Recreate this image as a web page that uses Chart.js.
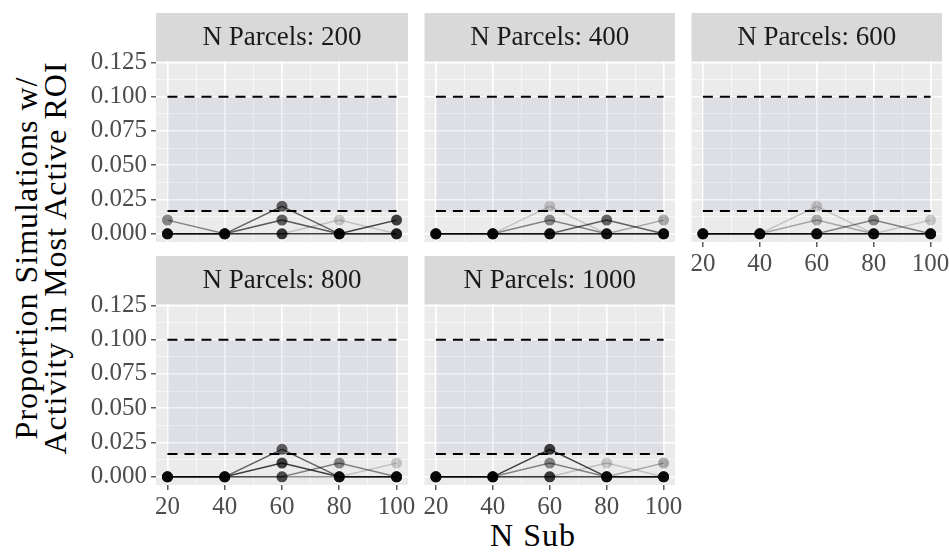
<!DOCTYPE html>
<html>
<head>
<meta charset="utf-8">
<script src="https://cdn.jsdelivr.net/npm/chart.js@4/dist/chart.umd.min.js"></script>
<style>
  body { margin: 0; background: #fff; }
  #wrap { position: relative; width: 949px; height: 554px; overflow: hidden; font-family: "Liberation Serif", serif; }
  #wrap canvas { position: absolute; }
  .ytitle {
    position: absolute; left: 41px; top: 258px;
    transform: translate(-50%, -50%) rotate(-90deg);
    white-space: nowrap; text-align: center;
    font-size: 32px; letter-spacing: 1px; line-height: 29px; color: #000;
  }
  .xtitle {
    position: absolute; left: 533px; top: 535px;
    transform: translate(-50%, -50%);
    white-space: nowrap; font-size: 32px; letter-spacing: 1px; line-height: 32px; color: #000;
  }
</style>
</head>
<body>
<div id="wrap">
  <div class="ytitle">Proportion Simulations w/<br>Activity in Most Active ROI</div>
  <div class="xtitle">N Sub</div>
</div>
<script>
const nSub = [20, 40, 60, 80, 100];
const parcels = [200, 400, 600, 800, 1000];
const xTicks = [20, 40, 60, 80, 100];
const yTicks = [0, 0.025, 0.05, 0.075, 0.1, 0.125];
const refLines = [0.1, 1 / 60];

// proportion per N sub, one row per series (darkest first)
const prop200 = [
  [0, 0, 0, 0, 0.01],
  [0, 0, 0.02, 0, 0],
  [0.01, 0, 0.01, 0, 0],
  [0, 0, 0.01, 0, 0],
  [0, 0, 0, 0.01, 0],
];
const prop400 = [
  [0, 0, 0, 0, 0],
  [0, 0, 0, 0.01, 0],
  [0, 0, 0.01, 0, 0],
  [0, 0, 0, 0, 0.01],
  [0, 0, 0.02, 0, 0],
];
const prop600 = [
  [0, 0, 0, 0, 0],
  [0, 0, 0, 0, 0],
  [0, 0, 0, 0.01, 0],
  [0, 0, 0.01, 0, 0],
  [0, 0, 0.02, 0, 0.01],
];
const prop800 = [
  [0, 0, 0.01, 0, 0],
  [0, 0, 0.02, 0, 0],
  [0, 0, 0, 0.01, 0],
  [0, 0, 0, 0, 0],
  [0, 0, 0, 0, 0.01],
];
const prop1000 = [
  [0, 0, 0.02, 0, 0],
  [0, 0, 0, 0, 0],
  [0, 0, 0.01, 0, 0],
  [0, 0, 0, 0, 0.01],
  [0, 0, 0, 0.01, 0],
];
const props = [prop200, prop400, prop600, prop800, prop1000];
const shades = [0.75, 0.6, 0.45, 0.3, 0.18];

const FONT = '"Liberation Serif", serif';
const STRIP_H = 48;
const PANEL_W = 252;
const PANEL_H = 181;

// facet positions
const panels = [
  { left: 156, top: 13, yLab: true, xLab: false },
  { left: 423, top: 13, yLab: false, xLab: false },
  { left: 690, top: 13, yLab: false, xLab: true },
  { left: 156, top: 256, yLab: true, xLab: true },
  { left: 423, top: 256, yLab: false, xLab: true },
];

// major + minor grid positions
const xGrid = [];
xTicks.forEach((v, i) => { xGrid.push(v); if (i < xTicks.length - 1) xGrid.push(v + 10); });
const yGrid = [];
yTicks.forEach((v, i) => { yGrid.push(v); if (i < yTicks.length - 1) yGrid.push(v + 0.0125); });

const panelFrame = {
  id: "panelFrame",
  beforeDraw(chart, args, opts) {
    const { ctx, chartArea: a } = chart;
    ctx.save();
    ctx.fillStyle = "#EBEBEB";
    ctx.fillRect(a.left, a.top, a.right - a.left, a.bottom - a.top);
    ctx.fillStyle = "#D9D9D9";
    ctx.fillRect(a.left, a.top - STRIP_H, a.right - a.left, STRIP_H);
    ctx.fillStyle = "#1A1A1A";
    ctx.font = "27px " + FONT;
    ctx.textAlign = "center";
    ctx.textBaseline = "middle";
    ctx.fillText(opts.label, (a.left + a.right) / 2, a.top - STRIP_H / 2 + 1);
    ctx.restore();
  },
};

const wrap = document.getElementById("wrap");

panels.forEach((p, k) => {
  const lw = p.yLab ? 100 : 4;
  const axisH = p.xLab ? 42 : 0;
  const padB = p.xLab ? 0 : 30;
  const padR = 22;
  const canvas = document.createElement("canvas");
  canvas.width = lw + PANEL_W + padR;
  canvas.height = STRIP_H + PANEL_H + axisH + padB;
  canvas.style.left = (p.left - lw) + "px";
  canvas.style.top = p.top + "px";
  wrap.appendChild(canvas);

  const series = props[k].map((row, j) => ({
    data: nSub.map((x, i) => ({ x: x, y: row[i] })),
    borderColor: `rgba(0,0,0,${shades[j]})`,
    backgroundColor: `rgba(0,0,0,${shades[j]})`,
    borderWidth: 1.4,
    pointRadius: 5.5,
    pointBorderWidth: 0,
    fill: false,
  }));
  const refs = refLines.map((v, j) => ({
    data: [{ x: 20, y: v }, { x: 100, y: v }],
    borderColor: "#000",
    borderWidth: 2,
    borderDash: [10, 7],
    pointRadius: 0,
    fill: j === 0 ? "+1" : false,
    backgroundColor: "rgba(60,60,160,0.07)",
  }));

  const isMajorX = (v) => xTicks.includes(v);
  const isMajorY = (v) => yTicks.includes(v);

  new Chart(canvas, {
    type: "line",
    data: { datasets: series.concat(refs) },
    plugins: [panelFrame],
    options: {
      responsive: false,
      animation: false,
      devicePixelRatio: 1,
      events: [],
      layout: { padding: { top: STRIP_H, right: padR, bottom: padB, left: 0 } },
      plugins: {
        legend: { display: false },
        tooltip: { enabled: false },
        filler: { drawTime: "beforeDatasetsDraw" },
        panelFrame: { label: "N Parcels: " + parcels[k] },
      },
      scales: {
        x: {
          type: "linear",
          min: 16,
          max: 104,
          afterBuildTicks: (s) => { s.ticks = xGrid.map((v) => ({ value: v })); },
          afterFit: (s) => { s.height = axisH; },
          border: { display: false },
          grid: {
            color: (c) => isMajorX(c.tick.value) ? "#FFFFFF" : "rgba(255,255,255,0.75)",
            lineWidth: (c) => isMajorX(c.tick.value) ? 1.6 : 0.8,
            drawTicks: p.xLab,
            tickLength: 5,
            tickWidth: 1.2,
            tickColor: (c) => isMajorX(c.tick.value) ? "#333333" : "rgba(0,0,0,0)",
          },
          ticks: {
            display: p.xLab,
            autoSkip: false,
            maxRotation: 0,
            padding: 2,
            color: "#4D4D4D",
            font: { family: FONT, size: 25 },
            callback: (v) => isMajorX(v) ? String(v) : "",
          },
        },
        y: {
          type: "linear",
          min: -0.006,
          max: 0.126,
          afterBuildTicks: (s) => { s.ticks = yGrid.map((v) => ({ value: v })); },
          afterFit: (s) => { s.width = lw; },
          border: { display: false },
          grid: {
            color: (c) => isMajorY(c.tick.value) ? "#FFFFFF" : "rgba(255,255,255,0.75)",
            lineWidth: (c) => isMajorY(c.tick.value) ? 1.6 : 0.8,
            drawTicks: p.yLab,
            tickLength: 5,
            tickWidth: 1.2,
            tickColor: (c) => isMajorY(c.tick.value) ? "#333333" : "rgba(0,0,0,0)",
          },
          ticks: {
            display: p.yLab,
            autoSkip: false,
            padding: 4,
            color: "#4D4D4D",
            font: { family: FONT, size: 25 },
            callback: (v) => isMajorY(v) ? v.toFixed(3) : "",
          },
        },
      },
    },
  });
});
</script>
</body>
</html>
